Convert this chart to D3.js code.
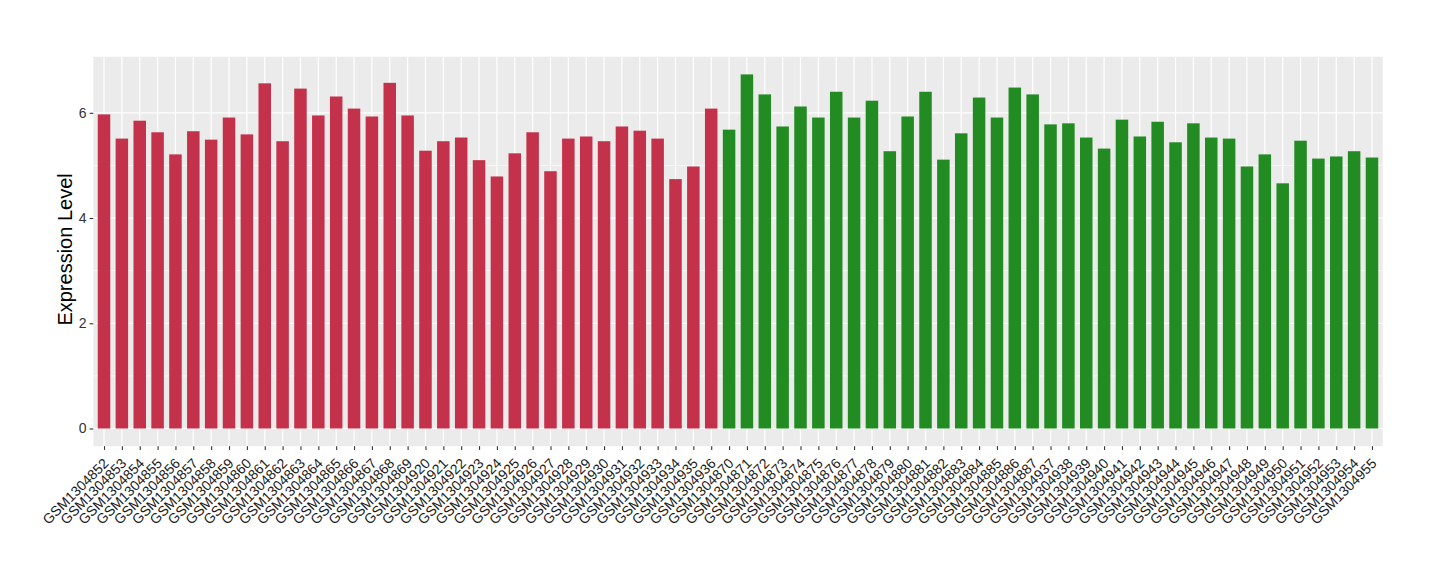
<!DOCTYPE html>
<html>
<head>
<meta charset="utf-8">
<script src="https://cdn.jsdelivr.net/npm/d3@7"></script>
<style>
  body { margin: 0; background: #fff; }
  text { font-family: "Liberation Sans", Arial, Helvetica, sans-serif; }
</style>
</head>
<body>
<svg id="chart" width="1440" height="580"></svg>
<script>
const samples = [
  "GSM1304852","GSM1304853","GSM1304854","GSM1304855","GSM1304856","GSM1304857","GSM1304858","GSM1304859","GSM1304860",
  "GSM1304861","GSM1304862","GSM1304863","GSM1304864","GSM1304865","GSM1304866","GSM1304867","GSM1304868","GSM1304869",
  "GSM1304920","GSM1304921","GSM1304922","GSM1304923","GSM1304924","GSM1304925","GSM1304926","GSM1304927","GSM1304928",
  "GSM1304929","GSM1304930","GSM1304931","GSM1304932","GSM1304933","GSM1304934","GSM1304935","GSM1304936",
  "GSM1304870","GSM1304871","GSM1304872","GSM1304873","GSM1304874","GSM1304875","GSM1304876","GSM1304877","GSM1304878",
  "GSM1304879","GSM1304880","GSM1304881","GSM1304882","GSM1304883","GSM1304884","GSM1304885","GSM1304886","GSM1304887",
  "GSM1304937","GSM1304938","GSM1304939","GSM1304940","GSM1304941","GSM1304942","GSM1304943","GSM1304944","GSM1304945",
  "GSM1304946","GSM1304947","GSM1304948","GSM1304949","GSM1304950","GSM1304951","GSM1304952","GSM1304953","GSM1304954","GSM1304955"
];
const values = [
  5.97,5.51,5.85,5.63,5.21,5.65,5.49,5.91,5.59,
  6.56,5.46,6.46,5.95,6.31,6.08,5.93,6.57,5.95,
  5.28,5.46,5.53,5.10,4.79,5.23,5.63,4.89,5.51,
  5.55,5.46,5.74,5.66,5.51,4.74,4.98,6.08,
  5.68,6.73,6.35,5.74,6.12,5.91,6.40,5.91,6.23,
  5.27,5.93,6.40,5.11,5.61,6.29,5.91,6.48,6.35,
  5.78,5.80,5.53,5.32,5.87,5.55,5.83,5.44,5.80,
  5.53,5.51,4.98,5.21,4.66,5.47,5.13,5.17,5.27,5.15
];
const groups = samples.map((s, i) => i < 35 ? "A" : "B");
const groupColors = { A: "#C3314A", B: "#228B22" };
const yTicks = [0, 2, 4, 6];
const yMinor = [1, 3, 5];
const yTitle = "Expression Level";

const svg = d3.select("#chart");
const panel = { left: 93.3, right: 1382.7, top: 56.7, bottom: 446.2 };

const maxV = d3.max(values);
const y = d3.scaleLinear()
  .domain([-0.05 * maxV, 1.05 * maxV])
  .range([panel.bottom, panel.top]);

const n = samples.length;
const unit = (panel.right - panel.left) / (n - 1 + 1.2);
const x = d3.scalePoint()
  .domain(samples)
  .range([panel.left + 0.6 * unit, panel.right - 0.6 * unit]);
const barW = 0.7 * unit;

// panel background
svg.append("rect")
  .attr("x", panel.left).attr("y", panel.top)
  .attr("width", panel.right - panel.left).attr("height", panel.bottom - panel.top)
  .attr("fill", "#EBEBEB");

// minor gridlines
svg.append("g").selectAll("line").data(yMinor).join("line")
  .attr("x1", panel.left).attr("x2", panel.right)
  .attr("y1", d => y(d)).attr("y2", d => y(d))
  .attr("stroke", "#fff").attr("stroke-width", 0.6);

// major gridlines
svg.append("g").selectAll("line").data(yTicks).join("line")
  .attr("x1", panel.left).attr("x2", panel.right)
  .attr("y1", d => y(d)).attr("y2", d => y(d))
  .attr("stroke", "#fff").attr("stroke-width", 1.2);

svg.append("g").selectAll("line").data(samples).join("line")
  .attr("x1", d => x(d)).attr("x2", d => x(d))
  .attr("y1", panel.top).attr("y2", panel.bottom)
  .attr("stroke", "#fff").attr("stroke-width", 1.2);

// bars
svg.append("g").selectAll("rect").data(samples).join("rect")
  .attr("x", d => x(d) - barW / 2)
  .attr("width", barW)
  .attr("y", (d, i) => y(values[i]))
  .attr("height", (d, i) => y(0) - y(values[i]))
  .attr("fill", (d, i) => groupColors[groups[i]]);

// y axis
const yAxis = d3.axisLeft(y).tickValues(yTicks).tickSize(3.7).tickPadding(3);
const gy = svg.append("g").attr("transform", `translate(${panel.left},0)`).call(yAxis);
gy.select(".domain").remove();
gy.selectAll(".tick line").attr("stroke", "#333").attr("stroke-width", 1.1);
gy.selectAll(".tick text").attr("fill", "#333").attr("font-size", 14)
  .style("font-family", "'Liberation Sans', Arial, sans-serif");

// x axis
const xAxis = d3.axisBottom(x).tickSize(3.7).tickPadding(2);
const gx = svg.append("g").attr("transform", `translate(0,${panel.bottom})`).call(xAxis);
gx.select(".domain").remove();
gx.selectAll(".tick line").attr("stroke", "#333").attr("stroke-width", 1.1);
gx.selectAll(".tick text")
  .attr("fill", "#1a1a1a").attr("font-size", 14)
  .style("font-family", "'Liberation Sans', Arial, sans-serif")
  .attr("text-anchor", "end")
  .attr("dy", null)
  .attr("y", 0)
  .attr("transform", "translate(5,18) rotate(-45)");

// y title
svg.append("text")
  .attr("transform", `translate(72,${(panel.top + panel.bottom) / 2 - 2}) rotate(-90)`)
  .attr("text-anchor", "middle")
  .attr("font-size", 20)
  .attr("fill", "#000")
  .text(yTitle);
</script>
</body>
</html>
